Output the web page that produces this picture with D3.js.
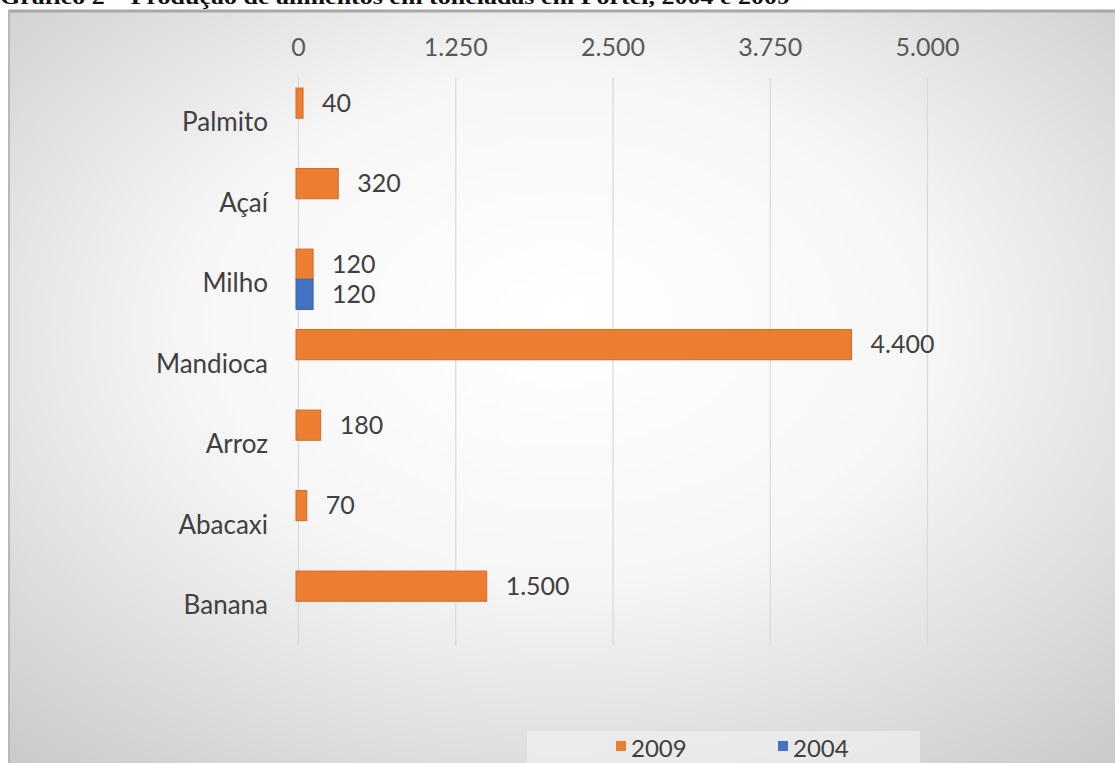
<!DOCTYPE html>
<html>
<head>
<meta charset="utf-8">
<script src="https://cdn.jsdelivr.net/npm/d3@7"></script>
<style>
  html, body { margin: 0; padding: 0; background: #ffffff; }
  svg { display: block; }
</style>
</head>
<body>
<svg id="chart" width="1115" height="763"></svg>
<script>
// Produção de alimentos (toneladas) em Portel
const categories = ["Palmito", "Açaí", "Milho", "Mandioca", "Arroz", "Abacaxi", "Banana"];
const values2009 = [40, 320, 120, 4400, 180, 70, 1500];
const values2004 = [null, null, 120, null, null, null, null];
const seriesNames = ["2009", "2004"];
const seriesColors = ["#ED7D31", "#4472C4"];
const tickValues = [0, 1250, 2500, 3750, 5000];
const titleText = "Gráfico 2 – Produção de alimentos em toneladas em Portel, 2004 e 2009";

const W = 1115, H = 763;
const svg = d3.select("#chart");
const fmt = d3.formatLocale({ decimal: ",", thousands: ".", grouping: [3], currency: ["", ""] }).format(",d");
const FONT = "Lato, 'Open Sans', sans-serif";

// background gradient of the chart frame
const defs = svg.append("defs");
const rg = defs.append("radialGradient").attr("id", "bg")
  .attr("cx", "50%").attr("cy", "45%").attr("r", "75%")
  .attr("fx", "50%").attr("fy", "40%");
rg.append("stop").attr("offset", "0%").attr("stop-color", "#ffffff");
rg.append("stop").attr("offset", "45%").attr("stop-color", "#f6f6f6");
rg.append("stop").attr("offset", "100%").attr("stop-color", "#c9c9c9");

// title (sits above the frame, partly outside the page)
svg.append("text")
  .attr("x", 0).attr("y", 4)
  .attr("font-family", "'Liberation Serif', 'Times New Roman', serif")
  .attr("font-weight", "bold").attr("font-size", 21)
  .attr("textLength", 790).attr("lengthAdjust", "spacingAndGlyphs")
  .attr("fill", "#111").text(titleText);

// frame
svg.append("rect").attr("x", 8).attr("y", 10).attr("width", W - 8).attr("height", H - 10)
  .attr("fill", "url(#bg)");
svg.append("line").attr("x1", 8).attr("x2", W).attr("y1", 11).attr("y2", 11)
  .attr("stroke", "#a8a8a8").attr("stroke-width", 3);
svg.append("line").attr("x1", 9).attr("x2", 9).attr("y1", 10).attr("y2", H)
  .attr("stroke", "#b8b8b8").attr("stroke-width", 2);

// scales
const x = d3.scaleLinear().domain([0, 5000]).range([298, 927]);
const y = d3.scaleBand().domain(categories).range([78, 641.5]).paddingInner(0.25).paddingOuter(0.125);
const ySub = d3.scaleBand().domain(seriesNames).range([0, y.bandwidth()]);

// gridlines
svg.append("g").selectAll("line").data(tickValues).join("line")
  .attr("x1", d => x(d) + 0.5).attr("x2", d => x(d) + 0.5)
  .attr("y1", 78).attr("y2", 646)
  .attr("stroke", "#d9d9d9").attr("stroke-width", 1.2);

// top axis tick labels
const axis = d3.axisTop(x).tickValues(tickValues).tickFormat(fmt).tickSize(0).tickPadding(0);
const gAxis = svg.append("g").attr("transform", "translate(0,56)").call(axis);
gAxis.select(".domain").remove();
gAxis.selectAll("text").attr("font-family", FONT).attr("font-size", 25).attr("fill", "#595959");

// category labels
const yAxis = d3.axisLeft(y).tickSize(0).tickPadding(0);
const gy = svg.append("g").attr("transform", "translate(268,0)").call(yAxis);
gy.select(".domain").remove();
gy.selectAll("text").attr("font-family", FONT).attr("font-size", 26).attr("fill", "#404040")
  .attr("dy", "0.5em");

// bars
const rows = [];
categories.forEach((c, i) => {
  [values2009[i], values2004[i]].forEach((v, s) => {
    if (v != null) rows.push({ cat: c, series: seriesNames[s], color: seriesColors[s], value: v });
  });
});

const bars = svg.append("g");
bars.selectAll("rect").data(rows).join("rect")
  .attr("x", x(0) - 2)
  .attr("y", d => y(d.cat) + ySub(d.series))
  .attr("width", d => x(d.value) - x(0) + 2)
  .attr("height", ySub.bandwidth())
  .attr("fill", d => d.color)
  .attr("stroke", d => d3.color(d.color).darker(0.4))
  .attr("stroke-width", 1);

// value labels
bars.selectAll("text").data(rows).join("text")
  .attr("x", d => x(d.value) + 19)
  .attr("y", d => y(d.cat) + ySub(d.series) + ySub.bandwidth() / 2)
  .attr("dy", "0.35em")
  .attr("font-family", FONT).attr("font-size", 25).attr("fill", "#404040")
  .text(d => fmt(d.value));

// legend
const lg = svg.append("g");
lg.append("rect").attr("x", 527).attr("y", 731).attr("width", 393).attr("height", 32)
  .attr("fill", "#efefef").attr("opacity", 0.7);
const legendX = [616, 778];
seriesNames.forEach((name, i) => {
  lg.append("rect").attr("x", legendX[i]).attr("y", 741).attr("width", 10).attr("height", 10)
    .attr("fill", seriesColors[i]);
  lg.append("text").attr("x", legendX[i] + 15).attr("y", 748).attr("dy", "0.36em")
    .attr("font-family", FONT).attr("font-size", 24).attr("fill", "#404040").text(name);
});
</script>
</body>
</html>
